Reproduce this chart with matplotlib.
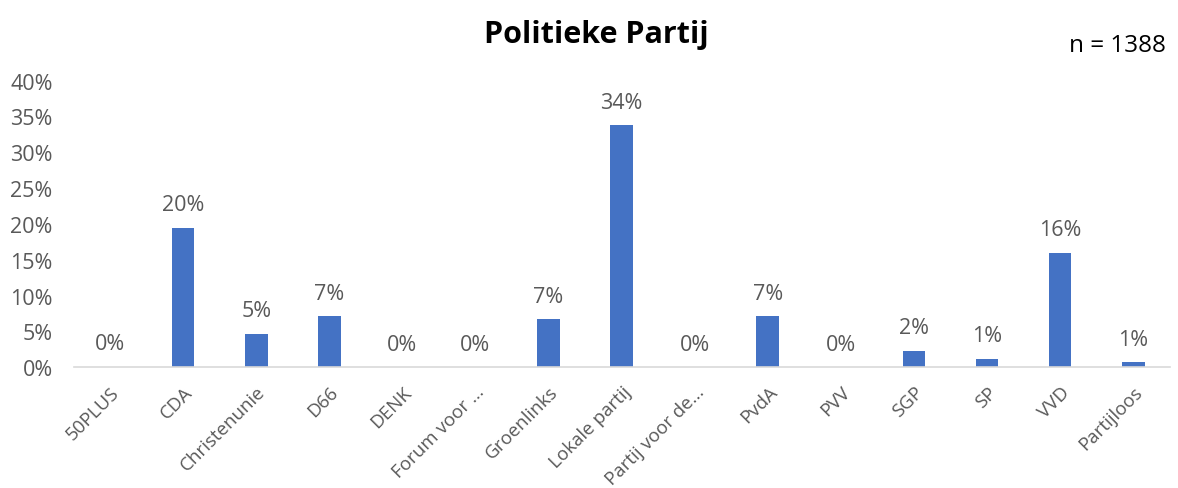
import numpy as np
import matplotlib.pyplot as plt
from matplotlib.transforms import ScaledTranslation

partijen = ['50PLUS', 'CDA', 'Christenunie', 'D66', 'DENK', 'Forum voor ...',
            'Groenlinks', 'Lokale partij', 'Partij voor de...', 'PvdA', 'PVV',
            'SGP', 'SP', 'VVD', 'Partijloos']
aandeel = [0.001, 0.195, 0.047, 0.071, 0.0, 0.0, 0.067, 0.338, 0.0, 0.071,
           0.0, 0.023, 0.012, 0.160, 0.007]
yticks = [0, 0.05, 0.10, 0.15, 0.20, 0.25, 0.30, 0.35, 0.40]

plt.rcParams['font.family'] = ['Open Sans', 'DejaVu Sans']
grey = '#595959'

fig = plt.figure(figsize=(11.78, 4.89), dpi=100)
ax = fig.add_axes([0.0624, 0.247, 0.9306, 0.586])

x = np.arange(len(partijen))
ax.bar(x, aandeel, width=0.31, color='#4472C4')
for xi, v in zip(x, aandeel):
    ax.annotate(f'{v:.0%}', (xi, v), xytext=(0, 9), textcoords='offset points',
                ha='center', va='bottom', fontsize=15.5, color=grey)

ax.set_xlim(-0.5, len(partijen) - 0.5)
ax.set_ylim(0, 0.40)
ax.set_yticks(yticks)
ax.set_yticklabels([f'{t:.0%}' for t in yticks], fontsize=15.5, color=grey)
ax.set_xticks(x)
ax.set_xticklabels(partijen, rotation=45, ha='right', va='top',
                   rotation_mode='anchor', fontsize=13.5, color=grey)
shift = ScaledTranslation(4 / 100, 0, fig.dpi_scale_trans)
for lab in ax.get_xticklabels():
    lab.set_transform(lab.get_transform() + shift)
ax.tick_params(axis='both', length=0)
ax.tick_params(axis='x', pad=11)
ax.tick_params(axis='y', pad=15)

for s in ['top', 'right', 'left']:
    ax.spines[s].set_visible(False)
ax.spines['bottom'].set_color('#D9D9D9')
ax.spines['bottom'].set_linewidth(1.2)

fig.text(0.506, 0.928, 'Politieke Partij', ha='center', va='center',
         fontsize=22, fontweight='bold', color='black')
fig.text(0.99, 0.905, 'n = 1388', ha='right', va='center', fontsize=17.5,
         color='black')

fig.savefig('out.png', dpi=100)
